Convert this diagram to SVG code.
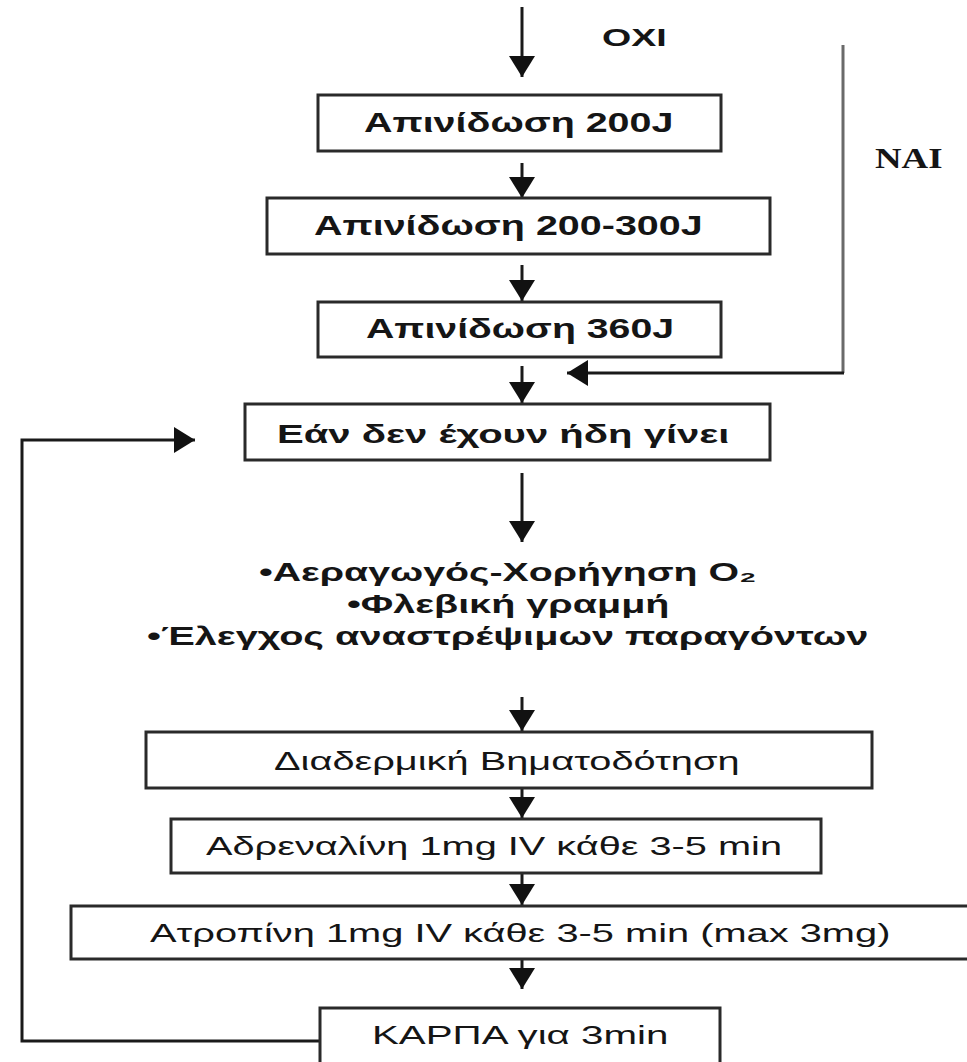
<svg xmlns="http://www.w3.org/2000/svg" width="967" height="1062" viewBox="0 0 967 1062">
<style>
.box{fill:#fff;stroke:#2a2a2a;stroke-width:3}
.t{font-family:"Liberation Sans",Arial,sans-serif;fill:#151515;font-size:26px}
.b{font-weight:bold;font-size:27px}
.bl{font-family:"Liberation Sans",Arial,sans-serif;fill:#151515;font-weight:bold;font-size:25px}
.lbl{font-family:"Liberation Sans",Arial,sans-serif;font-weight:bold;font-size:24px;fill:#151515}
.nai{font-family:"Liberation Serif","Times New Roman",serif;font-weight:bold;font-size:29px;fill:#151515}
.c{fill:none;stroke:#1a1a1a;stroke-width:3}
</style>
<defs>
<marker id="ah" markerUnits="userSpaceOnUse" markerWidth="24" markerHeight="28" refX="21" refY="13" orient="auto">
<path d="M0,0 L21,13 L0,26 z" fill="#111"/>
</marker>
</defs>
<rect width="967" height="1062" fill="#fff"/>
<g id="connectors">
<path class="c" d="M522,7 V77" marker-end="url(#ah)"/>
<path class="c" d="M522,163 V198" marker-end="url(#ah)"/>
<path class="c" d="M522,265 V301" marker-end="url(#ah)"/>
<path class="c" d="M522,366 V403" marker-end="url(#ah)"/>
<path d="M843,45 V373" fill="none" stroke="#6a6a6a" stroke-width="3"/>
<path class="c" d="M844,373 H567" marker-end="url(#ah)"/>
<path class="c" d="M522,473 V542" marker-end="url(#ah)"/>
<path class="c" d="M522,697 V731" marker-end="url(#ah)"/>
<path class="c" d="M522,783 V818" marker-end="url(#ah)"/>
<path class="c" d="M522,870 V905" marker-end="url(#ah)"/>
<path class="c" d="M522,955 V989" marker-end="url(#ah)"/>
<path class="c" d="M320,1041 H22 V440 H195" marker-end="url(#ah)"/>
<g transform="translate(602,0) scale(1.35,1)"><text class="lbl" x="0" y="46" textLength="48" lengthAdjust="spacingAndGlyphs">OXI</text></g>
<g transform="translate(875,0) scale(1.25,1)"><text class="nai" x="0" y="168" textLength="54" lengthAdjust="spacingAndGlyphs">NAI</text></g>
</g>
<g id="n1">
<rect class="box" x="318" y="95" width="403" height="56"/>
<g transform="translate(364,0) scale(1.3,1)"><text class="t b" x="0" y="132" textLength="238" lengthAdjust="spacingAndGlyphs">Απινίδωση 200J</text></g>
</g>
<g id="n2">
<rect class="box" x="267" y="198" width="503" height="56"/>
<g transform="translate(314,0) scale(1.3,1)"><text class="t b" x="0" y="235" textLength="299" lengthAdjust="spacingAndGlyphs">Απινίδωση 200-300J</text></g>
</g>
<g id="n3">
<rect class="box" x="318" y="302" width="403" height="55"/>
<g transform="translate(366,0) scale(1.3,1)"><text class="t b" x="0" y="338" textLength="237" lengthAdjust="spacingAndGlyphs">Απινίδωση 360J</text></g>
</g>
<g id="n4">
<rect class="box" x="245" y="404" width="525" height="56"/>
<g transform="translate(277,0) scale(1.25,1)"><text class="bl" x="0" y="443" textLength="362" lengthAdjust="spacingAndGlyphs">Εάν δεν έχουν ήδη γίνει</text></g>
</g>
<g id="n_bullets">
<g transform="translate(259,0) scale(1.25,1)"><text class="bl" x="0" y="581" textLength="398" lengthAdjust="spacingAndGlyphs">•Αεραγωγός-Χορήγηση O₂</text></g>
<g transform="translate(347,0) scale(1.25,1)"><text class="bl" x="0" y="613" textLength="258" lengthAdjust="spacingAndGlyphs">•Φλεβική γραμμή</text></g>
<g transform="translate(147,0) scale(1.25,1)"><text class="bl" x="0" y="645" textLength="577" lengthAdjust="spacingAndGlyphs">•Έλεγχος αναστρέψιμων παραγόντων</text></g>
</g>
<g id="n5">
<rect class="box" x="146" y="732" width="726" height="56"/>
<g transform="translate(274,0) scale(1.2,1)"><text class="t" x="0" y="770" textLength="388" lengthAdjust="spacingAndGlyphs">Διαδερμική Βηματοδότηση</text></g>
</g>
<g id="n6">
<rect class="box" x="171" y="819" width="650" height="54"/>
<g transform="translate(206,0) scale(1.2,1)"><text class="t" x="0" y="855" textLength="480" lengthAdjust="spacingAndGlyphs">Αδρεναλίνη 1mg IV κάθε 3-5 min</text></g>
</g>
<g id="n7">
<rect class="box" x="71" y="906" width="910" height="53"/>
<g transform="translate(150,0) scale(1.2,1)"><text class="t" x="0" y="942" textLength="617" lengthAdjust="spacingAndGlyphs">Ατροπίνη 1mg IV κάθε 3-5 min (max 3mg)</text></g>
</g>
<g id="n8">
<rect class="box" x="320" y="1008" width="400" height="64"/>
<g transform="translate(372,0) scale(1.2,1)"><text class="t" x="0" y="1044" textLength="247" lengthAdjust="spacingAndGlyphs">ΚΑΡΠΑ για 3min</text></g>
</g>
</svg>
